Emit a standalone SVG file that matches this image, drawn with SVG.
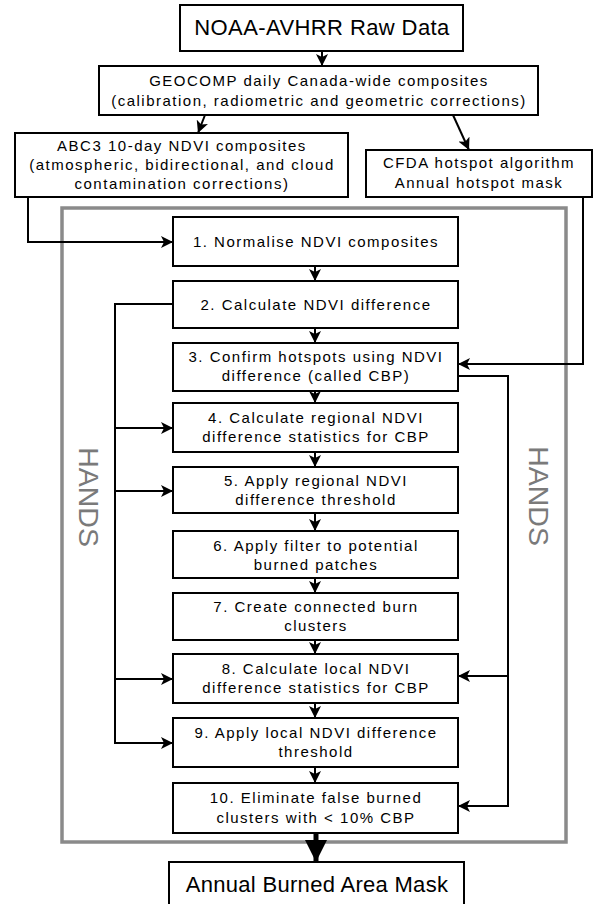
<svg xmlns="http://www.w3.org/2000/svg" width="603" height="904" viewBox="0 0 603 904">
<defs>
<style>
.box{fill:#fff;stroke:#000;stroke-width:2}
.t{font-family:"Liberation Sans",Arial,sans-serif;font-size:15px;letter-spacing:1.5px;text-anchor:middle;fill:#000}
.big{font-family:"Liberation Sans",Arial,sans-serif;font-size:22px;letter-spacing:0.4px;text-anchor:middle;fill:#000}
.hands{font-family:"Liberation Sans",Arial,sans-serif;font-size:28.5px;text-anchor:middle;fill:#7a7a7a}
.c{fill:none;stroke:#000;stroke-width:2}
</style>
<marker id="ah" markerUnits="userSpaceOnUse" markerWidth="12" markerHeight="12" viewBox="0 0 12 12" refX="12" refY="6" orient="auto">
<path d="M0,0 L12,6 L0,12 L3,6 z" fill="#000"/>
</marker>
<marker id="bh" markerUnits="userSpaceOnUse" markerWidth="22" markerHeight="22" viewBox="0 0 22 22" refX="22" refY="11" orient="auto">
<path d="M0,0 L22,11 L0,22 z" fill="#000"/>
</marker>
</defs>
<rect id="hands-frame" x="62" y="208" width="504" height="634" fill="none" stroke="#8a8a8a" stroke-width="3.5"/>
<g id="hands-left"><text class="hands" transform="translate(78.5,497) rotate(90)">HANDS</text></g>
<g id="hands-right"><text class="hands" transform="translate(528.5,496) rotate(90)">HANDS</text></g>
<g id="connectors">
<path class="c" d="M322,51 V66" marker-end="url(#ah)"/>
<path class="c" d="M205,115 L198,133" marker-end="url(#ah)"/>
<path class="c" d="M453,115 L469,150" marker-end="url(#ah)"/>
<path class="c" d="M28,197 V242 H173" marker-end="url(#ah)"/>
<path class="c" d="M583,197 V364 H458" marker-end="url(#ah)"/>
<path class="c" d="M315,266 V281" marker-end="url(#ah)"/>
<path class="c" d="M315,328 V343" marker-end="url(#ah)"/>
<path class="c" d="M315,391 V403" marker-end="url(#ah)"/>
<path class="c" d="M315,452 V467" marker-end="url(#ah)"/>
<path class="c" d="M315,513 V531" marker-end="url(#ah)"/>
<path class="c" d="M315,578 V593" marker-end="url(#ah)"/>
<path class="c" d="M315,640 V654" marker-end="url(#ah)"/>
<path class="c" d="M315,703 V718" marker-end="url(#ah)"/>
<path class="c" d="M315,767 V783" marker-end="url(#ah)"/>
<path d="M316,833 V862" fill="none" stroke="#000" stroke-width="5" marker-end="url(#bh)"/>
<path class="c" d="M173,304 H115 V743 H173" marker-end="url(#ah)"/>
<path class="c" d="M115,428 H173" marker-end="url(#ah)"/>
<path class="c" d="M115,491 H173" marker-end="url(#ah)"/>
<path class="c" d="M115,679 H173" marker-end="url(#ah)"/>
<path class="c" d="M458,376 H508 V806 H458" marker-end="url(#ah)"/>
<path class="c" d="M508,676 H458" marker-end="url(#ah)"/>
</g>
<g id="n-raw"><rect class="box" x="180" y="5" width="283" height="46"/><text class="big" x="322" y="35">NOAA-AVHRR Raw Data</text></g>
<g id="n-geocomp"><rect class="box" x="99" y="66" width="439" height="49"/><text class="t" x="319" y="86">GEOCOMP daily Canada-wide composites</text><text class="t" x="319" y="106">(calibration, radiometric and geometric corrections)</text></g>
<g id="n-abc3"><rect class="box" x="15" y="133" width="333" height="64"/><text class="t" x="182" y="151">ABC3 10-day NDVI composites</text><text class="t" x="182" y="170">(atmospheric, bidirectional, and cloud</text><text class="t" x="182" y="189">contamination corrections)</text></g>
<g id="n-cfda"><rect class="box" x="366" y="150" width="226" height="47"/><text class="t" x="479" y="168">CFDA hotspot algorithm</text><text class="t" x="479" y="188">Annual hotspot mask</text></g>
<g id="n1"><rect class="box" x="173" y="217" width="285" height="49"/><text class="t" x="316" y="247">1. Normalise NDVI composites</text></g>
<g id="n2"><rect class="box" x="173" y="281" width="285" height="47"/><text class="t" x="316" y="310">2. Calculate NDVI difference</text></g>
<g id="n3"><rect class="box" x="173" y="343" width="285" height="48"/><text class="t" x="316" y="362">3. Confirm hotspots using NDVI</text><text class="t" x="316" y="381">difference (called CBP)</text></g>
<g id="n4"><rect class="box" x="173" y="403" width="285" height="49"/><text class="t" x="316" y="423">4. Calculate regional NDVI</text><text class="t" x="316" y="442">difference statistics for CBP</text></g>
<g id="n5"><rect class="box" x="173" y="467" width="285" height="46"/><text class="t" x="316" y="486">5. Apply regional NDVI</text><text class="t" x="316" y="505">difference threshold</text></g>
<g id="n6"><rect class="box" x="173" y="531" width="285" height="47"/><text class="t" x="316" y="551">6. Apply filter to potential</text><text class="t" x="316" y="570">burned patches</text></g>
<g id="n7"><rect class="box" x="173" y="593" width="285" height="47"/><text class="t" x="316" y="612">7. Create connected burn</text><text class="t" x="316" y="631">clusters</text></g>
<g id="n8"><rect class="box" x="173" y="654" width="285" height="49"/><text class="t" x="316" y="674">8. Calculate local NDVI</text><text class="t" x="316" y="693">difference statistics for CBP</text></g>
<g id="n9"><rect class="box" x="173" y="718" width="285" height="49"/><text class="t" x="316" y="738">9. Apply local NDVI difference</text><text class="t" x="316" y="757">threshold</text></g>
<g id="n10"><rect class="box" x="173" y="783" width="285" height="50"/><text class="t" x="316" y="803">10. Eliminate false burned</text><text class="t" x="316" y="823">clusters with &lt; 10% CBP</text></g>
<g id="n-mask"><rect class="box" x="169" y="862" width="295" height="50"/><text class="big" x="317" y="892" style="letter-spacing:0.3px">Annual Burned Area Mask</text></g>
</svg>
